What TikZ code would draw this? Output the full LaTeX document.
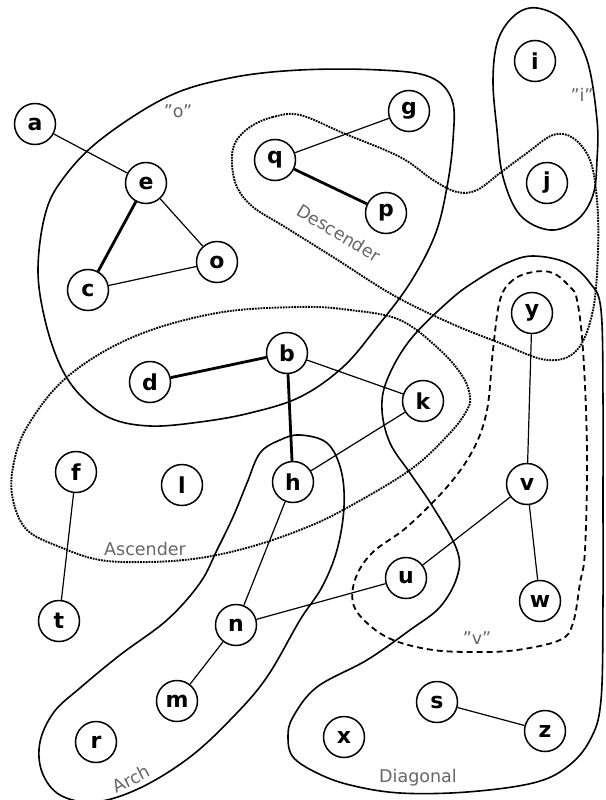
\documentclass[tikz,border=0pt]{standalone}
\usepackage{fontspec}
\setmainfont{DejaVu Sans}
\begin{document}
\begin{tikzpicture}[x=1pt,y=-1pt,
  vtx/.style={circle, draw, line width=1.5pt, minimum size=41pt, inner sep=0pt, font=\fontsize{22}{22}\selectfont\bfseries},
  thin edge/.style={line width=1.2pt},
  thick edge/.style={line width=2.8pt},
  region/.style={line width=1.6pt},
  dotregion/.style={line width=1.9pt, dash pattern=on 1.8pt off 1pt},
  dashregion/.style={line width=1.8pt, dash pattern=on 6pt off 4pt},
  lbl/.style={text=black!60, font=\fontsize{17.5}{17.5}\selectfont, inner sep=0pt}]
\useasboundingbox (0,0) rectangle (605,800);

% regions
\draw[region] plot[smooth cycle, tension=0.6] coordinates {(300,70) (380,70) (430,77) (452,100) (453,140) (447,187) (435,235) (410,283) (377,327) (343,367) (300,397) (250,413) (200,422) (150,426) (110,418) (80,395) (60,365) (45,320) (38,270) (45,215) (62,180) (100,140) (167,97) (230,78)};

\draw[dotregion] plot[smooth cycle, tension=0.6] coordinates {(300,115) (273,117) (250,127) (235,143) (232,163) (237,187) (253,207) (285,227) (333,257) (393,295) (450,323) (500,343) (547,360) (577,350) (593,310) (598,250) (597,200) (590,160) (573,138) (553,135) (527,153) (500,173) (477,190) (457,192) (433,180) (400,157) (343,133)};

\draw[region] plot[smooth cycle, tension=0.6] coordinates {(537,8) (515,15) (498,40) (493,80) (497,130) (503,177) (520,215) (550,230) (577,220) (593,195) (597,160) (597,120) (587,60) (565,22)};

\draw[dashregion] plot[smooth cycle, tension=0.6] coordinates {(533,272) (513,280) (500,300) (493,350) (487,410) (473,450) (447,487) (407,527) (373,552) (356,577) (353,603) (367,623) (393,640) (433,650) (477,652) (517,650) (560,640) (573,623) (580,583) (585,550) (587,450) (583,350) (577,300) (570,287) (553,273)};

\draw[region] plot[smooth cycle, tension=0.6] coordinates {(450,300) (477,280) (507,263) (533,256) (567,263) (590,283) (601,310) (603,400) (603,500) (603,600) (601,700) (590,740) (567,767) (533,783) (467,792) (400,793) (350,785) (317,773) (293,757) (288,737) (293,717) (317,687) (367,660) (410,630) (440,607) (457,577) (457,550) (433,507) (410,473) (390,443) (382,410) (387,380) (410,340)};

\draw[region] plot[smooth cycle, tension=0.6] coordinates {(300,435) (327,443) (341,470) (344,507) (337,550) (322,587) (300,620) (267,677) (233,717) (190,757) (140,788) (95,802) (60,795) (42,772) (40,742) (54,712) (80,688) (120,655) (167,620) (200,583) (217,550) (233,517) (247,483) (260,453) (280,440)};

\draw[dotregion] plot[smooth cycle, tension=0.6] coordinates {(300,307) (350,310) (400,320) (440,350) (463,377) (470,397) (467,410) (450,433) (410,470) (343,510) (300,530) (250,547) (200,558) (150,562) (100,560) (60,547) (27,530) (13,500) (13,467) (27,427) (67,377) (133,337) (217,313)};

% labels
\node[lbl] (lo) at (178,111) {"o"};
\node[lbl] (li) at (582,95) {"i"};
\node[lbl] (lv) at (477,638) {"v"};
\node[lbl, rotate=-31] (ldesc) at (339,233) {Descender};
\node[lbl] (lasc) at (145,549) {Ascender};
\node[lbl, rotate=27] (larch) at (131,779) {Arch};
\node[lbl] (ldiag) at (418,778) {Diagonal};

% vertices
\node[vtx] (a) at (35,124) {a};
\node[vtx] (e) at (146,183) {e};
\node[vtx] (o) at (217,262) {o};
\node[vtx] (c) at (88,290) {c};
\node[vtx] (q) at (275,160) {q};
\node[vtx] (g) at (409,111) {g};
\node[vtx] (p) at (386,213) {p};
\node[vtx] (i) at (535,61) {i};
\node[vtx] (j) at (547,183) {j};
\node[vtx] (y) at (532,313) {y};
\node[vtx] (b) at (287,353) {b};
\node[vtx] (d) at (150,382) {d};
\node[vtx] (k) at (423,401) {k};
\node[vtx] (f) at (76,472) {f};
\node[vtx] (l) at (182,485) {l};
\node[vtx] (h) at (293,482) {h};
\node[vtx] (v) at (527,484) {v};
\node[vtx] (t) at (59,621) {t};
\node[vtx] (n) at (236,625) {n};
\node[vtx] (u) at (406,578) {u};
\node[vtx] (w) at (540,601) {w};
\node[vtx] (m) at (177,701) {m};
\node[vtx] (r) at (96,742) {r};
\node[vtx] (s) at (437,702) {s};
\node[vtx] (z) at (545,731) {z};
\node[vtx] (x) at (344,737) {x};

% edges
\draw[thin edge] (a) -- (e);
\draw[thick edge] (e) -- (c);
\draw[thin edge] (e) -- (o);
\draw[thin edge] (c) -- (o);
\draw[thin edge] (q) -- (g);
\draw[thick edge] (q) -- (p);
\draw[thick edge] (d) -- (b);
\draw[thick edge] (b) -- (h);
\draw[thin edge] (b) -- (k);
\draw[thin edge] (k) -- (h);
\draw[thin edge] (h) -- (n);
\draw[thin edge] (n) -- (u);
\draw[thin edge] (u) -- (v);
\draw[thin edge] (y) -- (v);
\draw[thin edge] (v) -- (w);
\draw[thin edge] (f) -- (t);
\draw[thin edge] (n) -- (m);
\draw[thin edge] (s) -- (z);
\end{tikzpicture}
\end{document}
